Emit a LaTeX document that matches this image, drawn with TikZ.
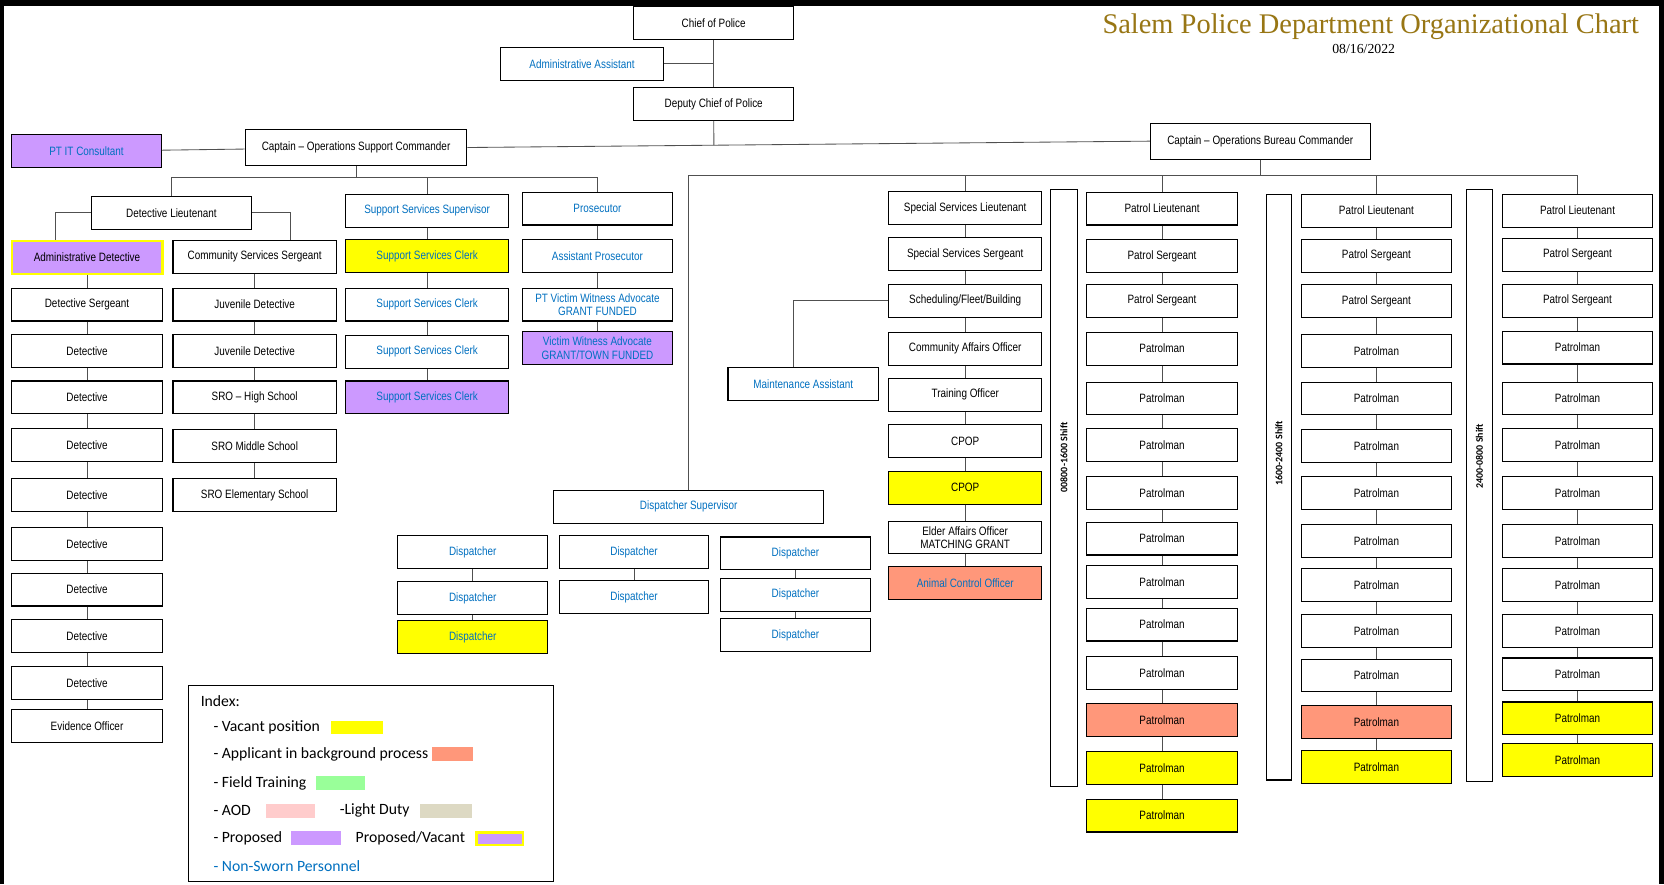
\documentclass[tikz,border=0pt]{standalone}
\usepackage{fontspec}
\setmainfont{Liberation Sans}[FakeStretch=0.82]
\newfontfamily\indexfont{Carlito}
\newfontfamily\titlefont{Liberation Serif}
\usetikzlibrary{calc}

\definecolor{nsblue}{RGB}{0,112,192}
\definecolor{cvacant}{RGB}{255,255,0}
\definecolor{capplicant}{RGB}{255,151,122}
\definecolor{cproposed}{RGB}{204,153,255}
\definecolor{ctraining}{RGB}{153,255,153}
\definecolor{caod}{RGB}{255,204,204}
\definecolor{clightduty}{RGB}{221,217,195}
\definecolor{linegray}{RGB}{80,80,80}
\definecolor{titlegold}{RGB}{152,118,20}

\tikzset{
  post/.style={
    draw,
    line width=1pt,
    fill=white,
    minimum width=143pt,
    minimum height=31pt,
    inner sep=1pt,
    align=center,
    font=\fontsize{11.4}{12.5}\selectfont,
  },
  plain/.style={},
  nonsworn/.style={text=nsblue},
  vacant/.style={fill=cvacant},
  applicant/.style={fill=capplicant},
  proposed/.style={fill=cproposed},
  propvacant/.style={fill=cproposed, draw=cvacant, line width=2.2pt},
  link/.style={draw=linegray, line width=0.8pt},
  shiftbar/.style={draw, line width=1pt, inner sep=0pt},
  shiftlabel/.style={rotate=90, inner sep=0pt, font=\indexfont\bfseries\fontsize{9.4}{11}\selectfont},
  swatch/.style={inner sep=0pt, minimum height=13pt},
  indexitem/.style={anchor=west, inner sep=0pt, font=\indexfont\fontsize{14.8}{16}\selectfont},
}

\begin{document}
\begin{tikzpicture}[x=1pt, y=-1pt]

  \fill[black] (0,0) rectangle (1568,833);
  \fill[white] (4,6) rectangle (1563,833);
  \useasboundingbox (0,0) rectangle (1568,833);

  % title
  \node[font=\titlefont\fontsize{26.8}{30}\selectfont, text=titlegold, anchor=east] (title) at (1548,25) {Salem Police Department Organizational Chart};
  \node[font=\titlefont\fontsize{13}{14}\selectfont] (date) at (1285,46) {08/16/2022};

  % command staff
  \node[post, minimum width=151pt] (chief) at (672.5,22) {Chief of Police};
  \node[post, nonsworn, minimum width=153pt] (admasst) at (548.5,60) {Administrative Assistant};
  \node[post, minimum width=151pt] (deputy) at (672.5,98) {Deputy Chief of Police};
  \node[post, minimum width=209pt, minimum height=34pt] (osc) at (335.5,139) {Captain – Operations Support Commander};
  \node[post, minimum width=207pt, minimum height=34pt] (obc) at (1187.5,133) {Captain – Operations Bureau Commander};
  \node[post, nonsworn, proposed, minimum width=141pt] (ptit) at (81.5,142.5) {PT IT Consultant};

  \draw[link] (chief) -- (deputy);
  \draw[link] (admasst.east) -- (admasst.east -| chief);
  \draw[link] (ptit) -- (osc);
  \draw[link] (osc.east) -- (obc.west);
  \draw[link] (deputy) -- ($(osc.east)!(deputy.south)!(obc.west)$);

  % operations support
  \node[post, minimum width=151pt] (detlt) at (161.5,200.5) {Detective Lieutenant};
  \node[post, nonsworn, minimum width=153pt] (sss) at (402.5,198.5) {Support Services Supervisor};
  \node[post, nonsworn, minimum width=142pt] (pros) at (563,196.5) {Prosecutor};

  \coordinate (osbus) at ($(osc.south)+(0,11)$);
  \draw[link] (osc) -- (osbus);
  \draw[link] (detlt) |- (osbus) -| (pros);
  \draw[link] (sss) -- (sss |- osbus);

  \foreach \y/\lab/\sty [count=\i] in {
      242.5/Administrative Detective/propvacant, 287/Detective Sergeant/plain,
      330.5/Detective/plain, 374.5/Detective/plain, 419.5/Detective/plain,
      466.5/Detective/plain, 512.5/Detective/plain, 555.5/Detective/plain,
      599.5/Detective/plain, 643.5/Detective/plain, 684/Evidence Officer/plain} {
    \node[post, minimum width=142pt, \sty] (det\i) at (82,\y) {\lab};
  }
  \foreach \y/\lab [count=\i] in {
      242/Community Services Sergeant, 287/Juvenile Detective, 330.5/Juvenile Detective,
      374.5/SRO – High School, 420.5/SRO Middle School, 466.5/SRO Elementary School} {
    \node[post, minimum width=154pt] (cs\i) at (240,\y) {\lab};
  }
  \foreach \y/\sty [count=\i] in {241.5/vacant, 287/plain, 331.5/plain, 374.5/proposed} {
    \node[post, nonsworn, minimum width=153pt, \sty] (ss\i) at (402.5,\y) {Support Services Clerk};
  }
  \node[post, nonsworn, minimum width=142pt] (pr1) at (563,241.5) {Assistant Prosecutor};
  \node[post, nonsworn, minimum width=142pt] (pr2) at (563,287) {PT Victim Witness Advocate\\GRANT FUNDED};
  \node[post, nonsworn, proposed, minimum width=142pt] (pr3) at (563,328) {Victim Witness Advocate\\GRANT/TOWN FUNDED};

  \draw[link] (detlt.west) -| ([xshift=-30pt]det1.north);
  \draw[link] (detlt.east) -| ([xshift=34pt]cs1.north);
  \foreach \i [evaluate=\i as \j using int(\i-1)] in {2,...,11} \draw[link] (det\j) -- (det\i);
  \foreach \i [evaluate=\i as \j using int(\i-1)] in {2,...,6} \draw[link] (cs\j) -- (cs\i);
  \foreach \i [evaluate=\i as \j using int(\i-1)] in {2,...,4} \draw[link] (ss\j) -- (ss\i);
  \foreach \i [evaluate=\i as \j using int(\i-1)] in {2,3} \draw[link] (pr\j) -- (pr\i);
  \draw[link] (sss) -- (ss1);
  \draw[link] (pros) -- (pr1);

  % operations bureau
  \node[post, nonsworn, minimum width=254pt] (dispsup) at (649,477.5) {Dispatcher Supervisor};
  \foreach \y/\lab/\sty [count=\i] in {
      196/Special Services Lieutenant/plain, 239.5/Special Services Sergeant/plain,
      283.5/{Scheduling/Fleet/Building}/plain, 328.5/Community Affairs Officer/plain,
      372/Training Officer/plain, 415.5/CPOP/plain, 459.5/CPOP/vacant,
      506.5/{Elder Affairs Officer\\MATCHING GRANT}/plain} {
    \node[post, minimum width=144pt, \sty] (sp\i) at (909.5,\y) {\lab};
  }
  \node[post, nonsworn, applicant, minimum width=144pt] (sp9) at (909.5,549.5) {Animal Control Officer};
  \node[post, nonsworn, minimum width=142pt] (maint) at (757,362) {Maintenance Assistant};
  \foreach \i [evaluate=\i as \j using int(\i-1)] in {2,...,9} \draw[link] (sp\j) -- (sp\i);
  \draw[link] (sp3.west) -| ([xshift=-9pt]maint.north);

  \foreach \y/\sty [count=\i] in {520.5/plain, 563.5/plain, 600.5/vacant} {
    \node[post, nonsworn, minimum width=141pt, \sty] (dpa\i) at (445.5,\y) {Dispatcher};
  }
  \foreach \y [count=\i] in {520.5, 562.5} {
    \node[post, nonsworn, minimum width=141pt] (dpb\i) at (597.5,\y) {Dispatcher};
  }
  \foreach \y [count=\i] in {521.5, 560.5, 598.5} {
    \node[post, nonsworn, minimum width=141pt] (dpc\i) at (749.5,\y) {Dispatcher};
  }
  \draw[link] (dpa1) -- (dpa2) -- (dpa3) (dpb1) -- (dpb2) (dpc1) -- (dpc2) -- (dpc3);

  % patrol shifts
  \node[shiftbar, minimum width=25pt, minimum height=562pt] (shift1) at (1002.5,460) {};
  \node[shiftbar, minimum width=24pt, minimum height=552pt] (shift2) at (1205,459) {};
  \node[shiftbar, minimum width=24pt, minimum height=557pt] (shift3) at (1394,457.5) {};
  \node[shiftlabel] (shift1lab) at (1002.5,431) {00800-1600 Shift};
  \node[shiftlabel] (shift2lab) at (1205,427) {1600-2400 Shift};
  \node[shiftlabel] (shift3lab) at (1394,430) {2400-0800 Shift};

  \foreach \y/\lab/\sty [count=\i] in {
      196.5/Patrol Lieutenant/plain, 241.5/Patrol Sergeant/plain, 283.5/Patrol Sergeant/plain,
      328.5/Patrolman/plain, 375.5/Patrolman/plain, 419.5/Patrolman/plain, 464.5/Patrolman/plain,
      507.5/Patrolman/plain, 548.5/Patrolman/plain, 588.5/Patrolman/plain, 634.5/Patrolman/plain,
      678.5/Patrolman/applicant, 723.5/Patrolman/vacant, 768.5/Patrolman/vacant} {
    \node[post, \sty] (pa\i) at (1095,\y) {\lab};
  }
  \foreach \y/\lab/\sty [count=\i] in {
      198.5/Patrol Lieutenant/plain, 241/Patrol Sergeant/plain, 284/Patrol Sergeant/plain,
      330.5/Patrolman/plain, 375.5/Patrolman/plain, 420/Patrolman/plain, 464.5/Patrolman/plain,
      509.5/Patrolman/plain, 551.5/Patrolman/plain, 594.5/Patrolman/plain, 636.5/Patrolman/plain,
      680.5/Patrolman/applicant, 722.5/Patrolman/vacant} {
    \node[post, minimum width=142pt, \sty] (pb\i) at (1297,\y) {\lab};
  }
  \foreach \y/\lab/\sty [count=\i] in {
      198.5/Patrol Lieutenant/plain, 240/Patrol Sergeant/plain, 283.5/Patrol Sergeant/plain,
      327.5/Patrolman/plain, 375.5/Patrolman/plain, 419.5/Patrolman/plain, 464.5/Patrolman/plain,
      509.5/Patrolman/plain, 551.5/Patrolman/plain, 594.5/Patrolman/plain, 635.5/Patrolman/plain,
      677/Patrolman/vacant, 716.5/Patrolman/vacant} {
    \node[post, minimum width=141pt, \sty] (pc\i) at (1486.5,\y) {\lab};
  }
  \foreach \i [evaluate=\i as \j using int(\i-1)] in {2,...,14} \draw[link] (pa\j) -- (pa\i);
  \foreach \i [evaluate=\i as \j using int(\i-1)] in {2,...,13} \draw[link] (pb\j) -- (pb\i) (pc\j) -- (pc\i);

  \coordinate (obbus) at ($(obc.south)+(0,15)$);
  \draw[link] (obc) -- (obbus);
  \draw[link] (dispsup) |- (obbus) -| (pc1);
  \foreach \n in {sp1,pa1,pb1} \draw[link] (\n) -- (\n |- obbus);

  % index
  \node[draw, line width=1pt, minimum width=344pt, minimum height=185pt, inner sep=0pt] (index) at (350,738.5) {};
  \node[indexitem] (idxhead) at (189,661) {Index:};
  \node[indexitem] (idxvac) at (201,685) {- Vacant position};
  \node[indexitem] (idxapp) at (201,711) {- Applicant in background process};
  \node[indexitem] (idxft) at (201,738) {- Field Training};
  \node[indexitem] (idxaod) at (201,764) {- AOD};
  \node[indexitem] (idxld) at (320,764) {-Light Duty};
  \node[indexitem] (idxprop) at (201,790) {- Proposed};
  \node[indexitem] (idxpv) at (335,790) {Proposed/Vacant};
  \node[indexitem, text=nsblue] (idxns) at (201,816) {- Non-Sworn Personnel};
  \node[swatch, fill=cvacant, minimum width=49pt] (swvac) at (336.5,685.5) {};
  \node[swatch, fill=capplicant, minimum width=39pt] (swapp) at (426.5,710.5) {};
  \node[swatch, fill=ctraining, minimum width=46pt] (swft) at (321,738) {};
  \node[swatch, fill=caod, minimum width=46pt] (swaod) at (274,764) {};
  \node[swatch, fill=clightduty, minimum width=49pt] (swld) at (420.5,764.5) {};
  \node[swatch, fill=cproposed, minimum width=47pt] (swprop) at (297.5,790) {};
  \node[swatch, fill=cproposed, draw=cvacant, line width=2pt, minimum width=44pt, minimum height=12pt] (swpv) at (471,790.5) {};

\end{tikzpicture}
\end{document}
